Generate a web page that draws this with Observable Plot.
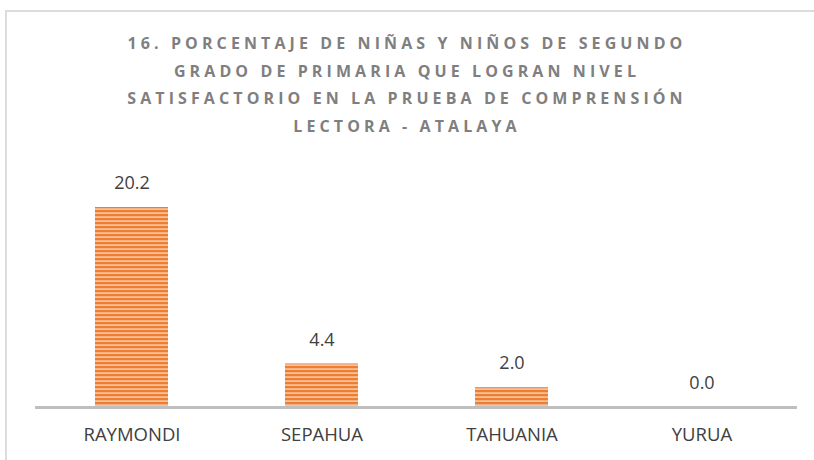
<!DOCTYPE html>
<html>
<head>
<meta charset="utf-8">
<script src="https://cdn.jsdelivr.net/npm/d3@7"></script>
<script src="https://cdn.jsdelivr.net/npm/@observablehq/plot@0.6"></script>
<style>
  html, body { margin: 0; padding: 0; background: #fff; }
  #wrap { position: relative; width: 814px; height: 460px; overflow: hidden; background: #fff; }
  #frame { position: absolute; left: 5px; top: 10px; width: 900px; height: 600px;
           border-top: 2px solid #dcdcdc; border-left: 2px solid #dcdcdc; box-sizing: border-box; }
  #title { position: absolute; left: 0; width: 814px; top: 30px; text-align: center;
           font-family: "Open Sans", sans-serif; font-weight: bold; font-size: 16px;
           letter-spacing: 4.1px; line-height: 27.7px; color: #7f7f7f; }
  #chart { position: absolute; left: 0; top: 150px; }
</style>
</head>
<body>
<div id="wrap">
  <div id="frame"></div>
  <div id="title">16. PORCENTAJE DE NIÑAS Y NIÑOS DE SEGUNDO<br>GRADO DE PRIMARIA QUE LOGRAN NIVEL<br>SATISFACTORIO EN LA PRUEBA DE COMPRENSIÓN<br>LECTORA - ATALAYA</div>
  <div id="chart"></div>
</div>
<script>
const districts = ["RAYMONDI", "SEPAHUA", "TAHUANIA", "YURUA"];
const values = [20.2, 4.4, 2.0, 0.0];

const data = districts.map((d, i) => ({district: d, value: values[i]}));

const svg = Plot.plot({
  width: 814,
  height: 310,
  marginLeft: 35,
  marginRight: 17,
  marginTop: 57,
  marginBottom: 53,
  style: {fontFamily: "'Open Sans', sans-serif", background: "transparent", overflow: "visible"},
  x: {domain: districts, paddingInner: 0.617, paddingOuter: 0.3085, label: null},
  y: {domain: [0, 20.2], axis: null},
  marks: [
    Plot.barY(data, {x: "district", y: "value", fill: "#ED7D31", className: "bars"}),
    Plot.ruleY([0], {stroke: "#bfbfbf", strokeWidth: 3}),
    Plot.text(data, {x: "district", y: "value", text: d => d.value.toFixed(1), dy: -24,
                     fontSize: 18, fill: "#404040"}),
    Plot.axisX({tickSize: 0, tickPadding: 20, fontSize: 18.5, color: "#404040", label: null})
  ]
});

// striped pattern for bars
const s = d3.select(svg);
const defs = s.insert("defs", ":first-child");
const pat = defs.append("pattern").attr("id", "stripes")
  .attr("patternUnits", "userSpaceOnUse").attr("width", 8).attr("height", 4);
pat.append("rect").attr("width", 8).attr("height", 4).attr("fill", "#ED7D31");
pat.append("rect").attr("y", 2.4).attr("width", 8).attr("height", 1.4).attr("fill", "#F9D3B8");
s.selectAll("g.bars rect, .bars rect").attr("fill", "url(#stripes)");
s.selectAll("g[aria-label='bar'] rect").attr("fill", "url(#stripes)");
s.selectAll("g[aria-label='x-axis tick label'] text").attr("fill", "#404040");

document.getElementById("chart").appendChild(svg);
</script>
</body>
</html>
